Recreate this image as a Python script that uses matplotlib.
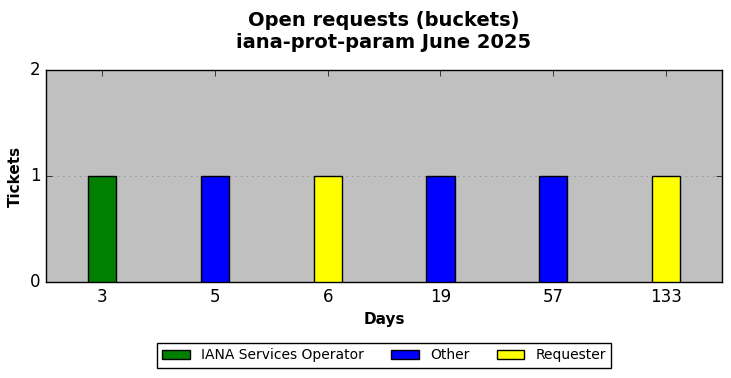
import matplotlib.pyplot as plt
from matplotlib.patches import Patch

plt.style.use("classic")

# ======================
# Data
# ======================

days = ["3", "5", "6", "19", "57", "133"]
tickets = [1, 1, 1, 1, 1, 1]
owners = ["IANA Services Operator", "Other", "Requester", "Other", "Other", "Requester"]
owner_colors = {
    "IANA Services Operator": "green",
    "Other": "blue",
    "Requester": "yellow",
}

fig = plt.figure(figsize=(7.31, 3.78), dpi=100, facecolor="white")
ax = fig.add_axes([0.063, 0.254, 0.925, 0.561])
ax.set_facecolor("#c0c0c0")

x = range(len(days))
ax.bar(x, tickets, width=0.25, align="center",
       color=[owner_colors[o] for o in owners], edgecolor="black", zorder=3)

ax.set_xlim(-0.5, len(days) - 0.5)
ax.set_ylim(0, 2)
ax.set_xticks(list(x))
ax.set_xticklabels(days)
ax.set_yticks([0, 1, 2])
ax.tick_params(labelsize=12)
ax.yaxis.grid(True, linestyle=":", color="gray", zorder=0)
ax.set_axisbelow(True)

ax.set_xlabel("Days", fontsize=11, fontweight="bold")
ax.set_ylabel("Tickets", fontsize=11, fontweight="bold")
fig.suptitle("Open requests (buckets)\niana-prot-param June 2025",
             fontsize=14, fontweight="bold", x=0.5253, y=0.972)

handles = [Patch(facecolor=c, edgecolor="black", label=k) for k, c in owner_colors.items()]
ax.legend(handles=handles, loc="lower center", ncol=3, fontsize=10,
          bbox_to_anchor=(0.5, -0.405), fancybox=False, handlelength=2.0,
          columnspacing=1.95, borderaxespad=0)

fig.savefig("out.png", dpi=100, facecolor="white")
